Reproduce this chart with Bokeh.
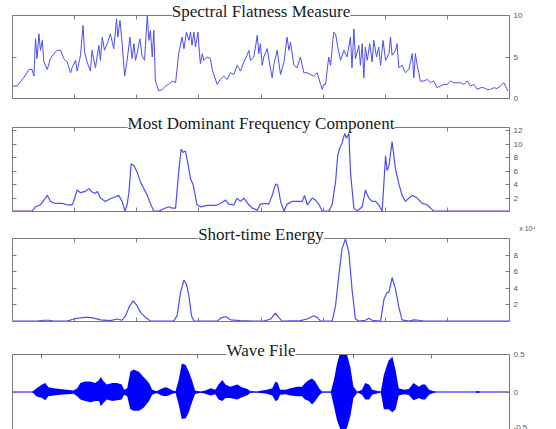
from bokeh.plotting import figure
from bokeh.layouts import column
from bokeh.models import Range1d, LinearAxis, FixedTicker, Title
from bokeh.embed import file_html
from bokeh.resources import INLINE

# ---------------- data (left to right) ----------------
titles = ["Spectral Flatness Measure", "Most Dominant Frequency Component",
          "Short-time Energy", "Wave File"]

n_frames = 160                      # frame axis extent
frame_ticks = [0, 20, 40, 60, 80, 100, 120, 140, 160]

sfm_x = [0.0, 1.5, 3.6, 5.3, 6.3, 6.9, 7.4, 7.9, 8.5, 9.0,
         9.6, 10.1, 11.2, 12.2, 13.3, 14.4, 15.5, 16.5, 17.6, 18.7,
         19.2, 20.3, 20.8, 21.9, 22.7, 23.2, 24.0, 25.1, 25.6, 26.7,
         27.8, 28.3, 28.9, 29.6, 30.5, 31.5, 32.6, 33.5, 33.9, 34.6,
         35.3, 36.1, 36.9, 37.8, 38.5, 39.1, 39.6, 40.1, 41.0, 41.7,
         42.5, 43.4, 43.9, 44.4, 45.0, 45.5, 46.0, 47.1, 48.2, 49.3,
         50.3, 51.4, 52.5, 53.5, 54.6, 55.2, 56.0, 56.8, 57.3, 57.8,
         58.4, 58.9, 59.7, 60.2, 60.5, 61.1, 61.6, 62.7, 63.7, 64.3,
         64.8, 65.9, 67.0, 68.0, 69.1, 70.2, 71.3, 72.3, 73.4, 74.5,
         75.5, 76.1, 76.6, 77.7, 78.8, 79.3, 79.8, 80.4, 80.9, 82.0,
         83.1, 83.6, 84.1, 85.2, 86.3, 87.4, 88.4, 89.0, 89.5, 90.6,
         91.6, 92.7, 93.8, 94.9, 95.9, 97.0, 98.1, 99.2, 99.7, 100.2,
         100.8, 101.8, 102.4, 103.4, 104.0, 104.7, 105.6, 106.7, 107.7, 108.8,
         109.3, 109.9, 110.4, 111.5, 112.0, 112.6, 113.1, 113.6, 114.2, 115.0,
         115.8, 116.3, 117.2, 117.9, 118.5, 119.3, 120.1, 121.2, 121.7, 122.2,
         123.3, 123.8, 124.4, 125.4, 126.5, 127.6, 128.7, 129.2, 129.7, 130.3,
         130.8, 131.3, 132.4, 133.5, 134.6, 135.6, 136.7, 137.8, 138.9, 139.9,
         141.0, 142.1, 143.1, 144.2, 145.3, 146.4, 147.4, 148.5, 149.6, 150.7,
         151.7, 152.8, 153.9, 155.0, 156.0, 157.1, 158.2, 158.7, 159.5]
sfm_y = [1.5, 1.5, 2.5, 3.5, 3.5, 2.7, 7.2, 4.8, 7.8, 5.8,
         7.0, 4.4, 3.5, 4.8, 5.4, 5.8, 5.8, 4.8, 4.4, 3.1,
         3.7, 4.6, 3.3, 5.2, 8.8, 5.6, 4.4, 3.3, 5.8, 3.7,
         6.4, 4.6, 7.4, 5.8, 6.6, 7.8, 6.0, 9.6, 7.4, 9.4,
         6.6, 2.7, 4.6, 7.4, 4.8, 6.6, 4.6, 5.4, 7.2, 5.2,
         4.6, 10.0, 7.0, 8.2, 5.0, 8.2, 2.1, 0.9, 1.1, 1.5,
         1.7, 2.1, 1.9, 5.4, 7.4, 6.0, 8.0, 7.0, 8.0, 6.4,
         8.0, 6.2, 8.0, 5.4, 4.2, 5.4, 4.6, 5.0, 4.8, 3.5,
         2.9, 1.7, 2.3, 2.7, 2.3, 3.1, 2.9, 4.0, 3.3, 4.4,
         5.2, 5.8, 4.6, 5.0, 7.6, 5.4, 6.6, 4.0, 5.0, 6.0,
         3.5, 2.5, 4.0, 5.8, 2.9, 4.4, 7.4, 5.8, 6.8, 4.0,
         3.7, 5.0, 3.1, 3.1, 2.9, 2.7, 3.1, 1.7, 1.1, 1.7,
         1.7, 5.0, 4.0, 8.0, 7.8, 6.2, 4.6, 5.8, 5.0, 7.4,
         3.7, 8.4, 4.8, 6.4, 4.0, 6.6, 2.5, 6.2, 4.6, 6.6,
         4.4, 7.0, 5.0, 6.2, 4.0, 7.0, 4.6, 5.4, 7.4, 5.2,
         5.8, 6.6, 3.7, 4.0, 3.1, 3.5, 5.4, 2.5, 5.4, 4.0,
         3.1, 2.1, 2.1, 2.3, 1.9, 2.1, 1.3, 1.5, 1.7, 1.7,
         2.1, 1.9, 1.9, 1.9, 1.7, 2.1, 1.5, 1.7, 1.1, 1.3,
         1.3, 1.1, 1.1, 1.3, 1.2, 1.5, 1.9, 1.5, 0.9]
sfm_max = 10
sfm_ticks = [0, 5, 10]

mdf_x = [0.1, 2.6, 6.3, 7.4, 9.0, 10.1, 11.2, 11.7, 12.2, 13.8,
         16.0, 17.6, 19.2, 19.7, 20.8, 21.9, 23.5, 24.6, 25.6, 26.7,
         27.3, 28.3, 29.9, 31.5, 33.2, 34.2, 35.3, 36.2, 36.9, 37.5,
         38.2, 39.1, 40.1, 41.2, 42.3, 43.4, 44.4, 45.5, 47.1, 48.7,
         50.3, 51.4, 52.5, 53.5, 54.3, 54.9, 55.7, 56.4, 57.3, 58.2,
         58.9, 59.4, 60.5, 62.7, 65.4, 67.0, 68.6, 69.6, 71.3, 72.3,
         73.4, 74.5, 76.1, 77.2, 78.8, 79.8, 81.4, 82.5, 83.6, 84.7,
         85.4, 86.3, 87.4, 88.4, 90.0, 91.6, 93.3, 94.0, 94.9, 96.5,
         97.5, 98.6, 99.7, 101.8, 102.9, 104.0, 104.7, 105.4, 106.1, 106.9,
         107.5, 108.3, 108.8, 109.9, 111.0, 112.6, 113.6, 114.7, 115.8, 116.9,
         117.9, 119.0, 120.1, 120.6, 121.2, 122.2, 123.3, 124.4, 125.4, 126.5,
         127.6, 128.7, 130.3, 131.9, 133.5, 134.6, 135.6, 159.8]
mdf_y = [0.05, 0.05, 0.05, 0.7, 1.0, 1.7, 2.4, 2.0, 1.5, 1.2,
         1.2, 1.0, 1.0, 1.5, 3.2, 2.8, 3.0, 3.4, 2.9, 2.7,
         3.0, 2.0, 1.5, 1.9, 2.2, 2.4, 1.5, 0.05, 1.0, 2.9,
         7.1, 6.8, 5.9, 4.4, 3.4, 2.4, 1.2, 0.05, 0.05, 0.4,
         0.7, 0.5, 0.5, 5.9, 9.3, 8.8, 9.0, 7.3, 4.9, 3.9,
         2.2, 1.0, 0.7, 0.9, 0.9, 1.2, 1.7, 1.1, 1.0, 2.0,
         1.5, 2.0, 1.0, 0.5, 0.2, 1.1, 1.2, 1.1, 2.4, 4.1,
         3.9, 1.5, 0.05, 1.1, 1.5, 1.5, 1.5, 2.4, 1.0, 2.0,
         1.7, 1.1, 0.05, 0.05, 1.0, 4.4, 8.3, 9.5, 10.2, 11.6,
         10.9, 11.6, 5.9, 0.5, 0.05, 0.7, 3.2, 2.0, 1.5, 1.5,
         1.0, 0.05, 8.3, 6.1, 6.8, 10.4, 6.3, 4.1, 2.4, 1.5,
         2.0, 2.4, 2.0, 1.2, 1.0, 0.5, 0.05, 0.05]
mdf_max = 12.5
mdf_ticks = [2, 4, 6, 8, 10, 12]

ste_x = [0.1, 7.9, 10.1, 11.7, 13.3, 17.6, 19.7, 23.0, 24.6, 26.2,
         28.3, 31.5, 33.7, 35.3, 36.4, 37.5, 38.8, 40.1, 41.2, 42.8,
         44.4, 51.9, 53.0, 54.1, 55.2, 56.0, 56.8, 57.6, 58.4, 65.9,
         67.0, 68.6, 70.2, 73.4, 77.7, 80.9, 83.1, 84.7, 85.7, 86.8,
         92.7, 94.9, 97.0, 98.1, 99.2, 102.9, 104.0, 105.1, 106.1, 107.2,
         108.3, 109.3, 110.4, 111.5, 113.6, 114.7, 115.8, 118.5, 119.6, 120.6,
         121.2, 122.2, 123.3, 124.4, 125.4, 127.6, 129.2, 130.8, 132.4, 159.8]
ste_y = [0.05, 0.05, 0.15, 0.15, 0.05, 0.05, 0.3, 0.5, 0.5, 0.4,
         0.2, 0.1, 0.3, 0.15, 0.7, 1.7, 2.5, 1.9, 1.1, 0.5,
         0.05, 0.05, 0.7, 3.5, 5.0, 4.5, 3.1, 0.7, 0.05, 0.05,
         0.4, 0.6, 0.2, 0.1, 0.05, 0.05, 0.3, 1.0, 0.5, 0.05,
         0.1, 0.3, 0.7, 0.5, 0.05, 0.05, 1.9, 5.7, 8.8, 9.95,
         8.3, 3.9, 0.3, 0.05, 0.15, 0.4, 0.15, 0.05, 2.7, 3.5,
         3.5, 5.3, 3.9, 1.7, 0.2, 0.05, 0.2, 0.15, 0.05, 0.05]
ste_max = 10
ste_ticks = [2, 4, 6, 8]
ste_scale = "x 10\u2074"

# wave file: sample position (x 10^4 samples, axis runs right to left) and envelope
n_samples = 6.37
sample_ticks = [0, 1, 2, 3, 4, 5, 6]
wave_x = [6.37, 6.12, 6.06, 5.99, 5.95, 5.91, 5.84, 5.76, 5.67, 5.59,
          5.54, 5.50, 5.44, 5.37, 5.31, 5.26, 5.24, 5.20, 5.16, 5.09,
          5.03, 4.97, 4.94, 4.90, 4.86, 4.82, 4.75, 4.69, 4.62, 4.58,
          4.52, 4.47, 4.41, 4.37, 4.32, 4.28, 4.24, 4.20, 4.15, 4.11,
          4.07, 4.03, 3.96, 3.90, 3.83, 3.77, 3.73, 3.68, 3.64, 3.58,
          3.49, 3.43, 3.36, 3.32, 3.24, 3.19, 3.11, 3.04, 3.00, 2.97,
          2.94, 2.87, 2.81, 2.72, 2.66, 2.62, 2.57, 2.53, 2.49, 2.44,
          2.40, 2.29, 2.25, 2.21, 2.17, 2.12, 2.08, 2.04, 2.00, 1.95,
          1.89, 1.85, 1.80, 1.76, 1.65, 1.61, 1.55, 1.50, 1.46, 1.42,
          1.35, 1.29, 1.23, 1.16, 1.12, 1.08, 1.03, 0.97, 0.93, 0.44,
          0.41, 0.37, 0.01]
wave_hi = [0, 0, 0.05, 0.10, 0.12, 0.065, 0.05, 0.04, 0.03, 0.02,
           0.05, 0.12, 0.14, 0.14, 0.12, 0.16, 0.20, 0.14, 0.10, 0.12,
           0.12, 0.10, 0.03, 0.05, 0.27, 0.30, 0.27, 0.20, 0.12, 0.03,
           0.01, 0.04, 0.065, 0.05, 0.02, 0.01, 0.16, 0.38, 0.36, 0.27,
           0.16, 0.02, 0.005, 0.02, 0.05, 0.03, 0.10, 0.16, 0.10, 0.07,
           0.10, 0.065, 0.04, 0.01, 0.005, 0.017, 0.03, 0.05, 0.14, 0.12,
           0.03, 0.03, 0.05, 0.07, 0.07, 0.12, 0.16, 0.18, 0.14, 0.05,
           0.005, 0.005, 0.16, 0.38, 0.53, 0.57, 0.49, 0.33, 0.07, 0.005,
           0.03, 0.12, 0.10, 0.03, 0.005, 0.23, 0.42, 0.47, 0.29, 0.05,
           0.03, 0.04, 0.12, 0.07, 0.10, 0.10, 0.03, 0.01, 0, 0,
           0.012, 0, 0]
wave_lo = [0, 0, -0.06, -0.08, -0.11, -0.057, -0.048, -0.035, -0.03, -0.022,
           -0.057, -0.10, -0.12, -0.135, -0.12, -0.12, -0.19, -0.14, -0.10, -0.12,
           -0.11, -0.10, -0.035, -0.057, -0.23, -0.25, -0.25, -0.21, -0.12, -0.035,
           -0.013, -0.043, -0.057, -0.048, -0.022, -0.013, -0.165, -0.36, -0.35, -0.27,
           -0.14, -0.026, -0.01, -0.022, -0.048, -0.03, -0.10, -0.12, -0.08, -0.08,
           -0.10, -0.07, -0.043, -0.01, -0.005, -0.013, -0.022, -0.048, -0.12, -0.11,
           -0.035, -0.03, -0.048, -0.057, -0.057, -0.10, -0.12, -0.165, -0.12, -0.048,
           -0.005, -0.005, -0.19, -0.38, -0.49, -0.53, -0.47, -0.32, -0.08, -0.005,
           -0.035, -0.10, -0.10, -0.035, -0.005, -0.23, -0.23, -0.27, -0.23, -0.048,
           -0.03, -0.039, -0.11, -0.08, -0.10, -0.10, -0.035, -0.01, 0, 0,
           -0.012, 0, 0]
wave_lim = 0.5
wave_ticks = [-0.5, 0, 0.5]
wave_tick_text = {-0.5: "-0.5", 0: "0", 0.5: "0.5"}

# ---------------- styling ----------------
FRAME = "#7a7a7a"
LINE = "#4d4df0"
WAVE = "#0000ff"


def make_panel(x_range, y_range, top, fh, bottom, xticks, yticks, title, below=True):
    p = figure(frame_width=497, frame_height=fh, x_range=x_range, y_range=y_range,
               output_backend="svg", toolbar_location=None,
               x_axis_location=None, y_axis_location=None,
               min_border_left=12, min_border_right=47,
               min_border_top=top, min_border_bottom=bottom,
               background_fill_color="white", border_fill_color="white")
    p.outline_line_color = None
    p.grid.visible = False
    p.title_location = None
    locs = ["left", "right", "above"] + (["below"] if below else [])
    axes = {}
    for loc in locs:
        ticks = yticks if loc in ("left", "right") else xticks
        ax = LinearAxis(ticker=FixedTicker(ticks=ticks))
        ax.axis_line_color = FRAME
        ax.axis_line_width = 1
        ax.major_tick_line_color = FRAME
        ax.major_tick_in = 4
        ax.major_tick_out = 0
        ax.minor_tick_line_color = None
        if loc == "right":
            ax.major_label_text_font = "Liberation Sans"
            ax.major_label_text_font_size = "8px"
            ax.major_label_text_color = "#555555"
            ax.major_label_standoff = 4
        else:
            ax.major_label_text_font_size = "1px"
            ax.major_label_text_color = None
            ax.major_label_standoff = 0
        p.add_layout(ax, loc)
        axes[loc] = ax
    # MATLAB-style title sitting on the top border, with a white box behind it
    p.add_layout(Title(text=title, align="center", text_font="Liberation Serif",
                       text_font_size="17px", text_font_style="normal",
                       text_color="#1a1a1a", background_fill_color="white",
                       vertical_align="bottom", standoff=-11, offset=-5), "above")
    return p, axes


# panel 1
p1, _ = make_panel(Range1d(0, n_frames), Range1d(0, sfm_max), 15, 83, 14,
                   frame_ticks, sfm_ticks, titles[0])
p1.line(sfm_x, sfm_y, line_color=LINE, line_width=1)

# panel 2
p2, _ = make_panel(Range1d(0, n_frames), Range1d(0, mdf_max), 15, 84, 13,
                   frame_ticks, mdf_ticks, titles[1])
p2.line(mdf_x, mdf_y, line_color=LINE, line_width=1.2)

# panel 3
p3, _ = make_panel(Range1d(0, n_frames), Range1d(0, ste_max), 14, 83, 13,
                   frame_ticks, ste_ticks, titles[2])
p3.line(ste_x, ste_y, line_color=LINE, line_width=1.2)
p3.add_layout(Title(text=ste_scale, align="right", offset=-26, standoff=-6,
                    text_font="Liberation Sans", text_font_size="7px",
                    text_font_style="normal", text_color="#555555"), "above")

# panel 4 (sample axis runs right to left)
p4, ax4 = make_panel(Range1d(n_samples, 0), Range1d(-wave_lim, wave_lim), 20, 75, 0,
                     sample_ticks, wave_ticks, titles[3], below=False)
ax4["right"].major_label_overrides = wave_tick_text
p4.varea(x=wave_x, y1=wave_lo, y2=wave_hi, fill_color=WAVE)
p4.line(wave_x, [0] * len(wave_x), line_color=WAVE, line_width=1)

layout = column(p1, p2, p3, p4, spacing=0)
open("out.html", "w").write(file_html(layout, INLINE))
